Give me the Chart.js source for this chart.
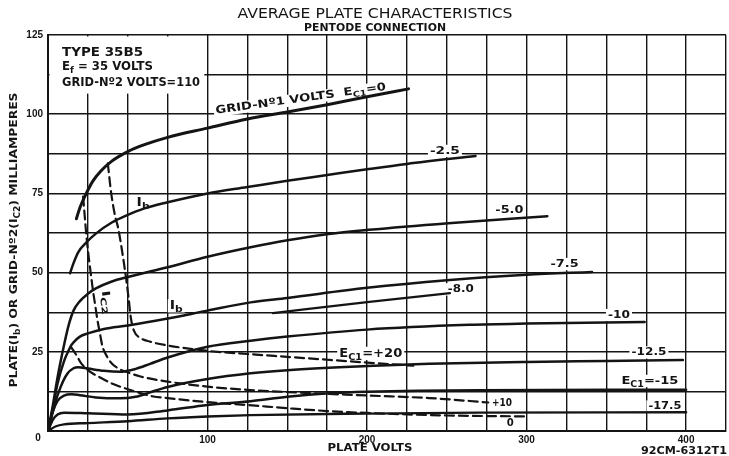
<!DOCTYPE html>
<html>
<head>
<meta charset="utf-8">
<title>35B5 average plate characteristics</title>
<script src="https://cdn.jsdelivr.net/npm/chart.js@4.4.1/dist/chart.umd.min.js"></script>
<style>
  html, body { margin: 0; padding: 0; background: #fff; }
  #wrap { width: 729px; height: 456px; position: relative; }
</style>
</head>
<body>
<div id="wrap"><canvas id="plateChart"></canvas></div>
<script>
// plate current curves, [plate volts, mA]
const ib_0 = [[17.8,67],[20,70.5],[24,75],[28,78.8],[33,82],[40,85.2],[50,88.2],[60,90.3],[75,92.7],[100,95.6],[125,98.5],[150,100.7],[175,103],[200,105.5],[226,108]];
const ib_m2_5 = [[13.8,49.8],[16,53],[19,56.5],[24,59.5],[30,62.3],[40,65.8],[50,68.2],[60,70.2],[75,72.2],[100,75],[125,77],[150,79],[175,80.8],[200,82.6],[225,84.3],[268,86.8]];
const ib_m5 = [[0,0],[3,8],[6,17],[10,27],[13,33.5],[16,38],[20,41],[25,43.3],[30,45],[40,47.2],[50,48.6],[75,51.7],[100,55],[127,58],[150,60.2],[176,62.2],[201,63.5],[251,65.6],[313,67.8]];
const ib_m7_5 = [[0,0],[3,7],[6,15],[10,22],[13,25.5],[14.5,27],[16,28],[20,29.8],[25,30.8],[35,32.2],[50,33.3],[75,35.5],[100,38],[127,40.6],[150,42],[200,45.2],[250,47.6],[300,49.3],[341,50.2]];
const ib_m8 = [[141,37.2],[200,40.7],[252,43.5]];
const ib_m10 = [[0,0],[4,8],[8,14],[12,18],[16,19.8],[19,20.1],[25,19.7],[35,19],[45,18.7],[55,19.6],[64,21.2],[75,23.2],[100,26.6],[127,28.5],[150,29.8],[200,32],[264,33.5],[300,33.9],[374,34.4]];
const ib_m12_5 = [[0,0],[3,6],[6,9.5],[10,11.2],[15,11.6],[20,11.3],[30,10.6],[45,10.3],[55,10.8],[64,12.2],[75,13.9],[100,16.4],[127,18.2],[150,19.2],[200,20.5],[239,21.2],[300,21.8],[350,22.1],[398,22.4]];
const ib_m15 = [[0,0],[3,3.5],[6,5.2],[10,5.8],[25,5.6],[50,5.2],[75,6.5],[100,8.2],[127,9.4],[150,10.8],[176,11.9],[200,12.4],[270,12.9],[400,13]];
const ib_m17_5 = [[0,0],[5,1.5],[10,2.1],[25,2.5],[50,3.1],[75,4],[100,4.6],[127,5],[200,5.5],[270,5.8],[400,5.9]];

// screen grid current curves (dashed)
const ic2_p10 = [[22,74],[23,68],[24,62],[25.5,55],[27,49],[28,45],[29.5,40],[31,35],[32.5,31],[34,27],[37,23.5],[40,21.3],[45,19.5],[50,18.5],[58,17.2],[75,15.6],[100,14],[125,13],[150,12.3],[200,11.2],[239,10.4],[276,9]];
const ic2_p20 = [[37.5,84.5],[39.5,75.5],[42,68],[44,64],[47,55],[49,48],[50.5,42],[52,35.5],[54,31.5],[57.5,29.5],[64,28.2],[75,27],[100,25.3],[125,24.3],[150,23.4],[175,22.5],[200,21.6],[229,20.6]];
const ic2_0 = [[14.5,26.5],[18,23.8],[20.6,21.5],[25,19.2],[33,16.8],[40,15],[50,13.2],[66,10.9],[75,10.4],[100,9.1],[125,8.2],[150,7.2],[175,6.3],[200,5.7],[250,4.9],[300,4.6]];

const xLabels = [100, 200, 300, 400];
const yLabels = [25, 50, 75, 100, 125];

const INK = '#141414';
const LETTER = '"DejaVu Sans", sans-serif';
const TICKFONT = '"Liberation Sans", Arial, sans-serif';

const curves = [
  { pts: ib_0, w: 3 },
  { pts: ib_m2_5, w: 2.5 },
  { pts: ib_m5, w: 2.5 },
  { pts: ib_m7_5, w: 2.5 },
  { pts: ib_m8, w: 2.2 },
  { pts: ib_m10, w: 2.5 },
  { pts: ib_m12_5, w: 2.5 },
  { pts: ib_m15, w: 2.5 },
  { pts: ib_m17_5, w: 2.4 },
  { pts: ic2_p10, w: 2.2, dash: true },
  { pts: ic2_p20, w: 2.2, dash: true },
  { pts: ic2_0, w: 2.2, dash: true }
];

// text on the plot, placed in data units (volts, mA)
const notes = [
  { t: 'TYPE 35B5', v: 8.8, i: 119.3, size: 12, w: 81, align: 'left' },
  { t: 'E{f} = 35 VOLTS', v: 8.8, i: 114.9, size: 12, w: 91, align: 'left' },
  { t: 'GRID-Nº2 VOLTS=110', v: 8.8, i: 109.8, size: 12, w: 138, align: 'left' },
  { t: 'GRID-Nº1 VOLTS  E{C1}=0', v: 158.5, i: 104.8, size: 11, w: 172, rot: -8, bg: true },
  { t: '-2.5', v: 248.8, i: 88.4, size: 11, w: 30, bg: true },
  { t: '-5.0', v: 289.2, i: 69.8, size: 11, w: 28, bg: true },
  { t: '-7.5', v: 323.8, i: 52.7, size: 11, w: 28, bg: true },
  { t: '-8.0', v: 258.8, i: 44.7, size: 11, w: 26, bg: true },
  { t: '-10', v: 357.9, i: 36.6, size: 11, w: 22, bg: true },
  { t: '-12.5', v: 376.7, i: 24.8, size: 11, w: 35, bg: true },
  { t: 'E{C1}=-15', v: 377.3, i: 15.8, size: 11, w: 57, bg: true },
  { t: '-17.5', v: 386.7, i: 7.7, size: 11, w: 33, bg: true },
  { t: '+10', v: 284.6, i: 8.9, size: 11, w: 20, bg: true },
  { t: '0', v: 289.8, i: 2.6, size: 11, w: 7, bg: true },
  { t: 'E{C1}=+20', v: 202.3, i: 24.5, size: 12, w: 63, bg: true },
  { t: 'I{b}', v: 59.6, i: 72.1, size: 12, w: 13, bg: true },
  { t: 'I{b}', v: 80.4, i: 39.5, size: 12, w: 13, bg: true },
  { t: 'I{C2}', v: 36.5, i: 40.6, size: 11, w: 24, rot: 82 }
];

function parseRich(str) {
  const out = [];
  str.split(/(\{[^}]*\})/).forEach(function (s) {
    if (!s) return;
    if (s[0] === '{') out.push({ t: s.slice(1, -1), sub: true });
    else out.push({ t: s, sub: false });
  });
  return out;
}

function measureRich(ctx, str, size, weight) {
  const parts = parseRich(str);
  let w = 0;
  parts.forEach(function (p) {
    p.size = p.sub ? Math.round(size * 0.72) : size;
    ctx.font = weight + ' ' + p.size + 'px ' + LETTER;
    p.w = ctx.measureText(p.t).width;
    w += p.w;
  });
  return { parts: parts, w: w };
}

function drawRich(ctx, str, x, y, size, opt) {
  opt = opt || {};
  const weight = opt.weight || 'bold';
  const m = measureRich(ctx, str, size, weight);
  const sx = opt.w ? opt.w / m.w : 0.85;
  ctx.save();
  ctx.translate(x, y);
  if (opt.rot) ctx.rotate(opt.rot * Math.PI / 180);
  ctx.scale(sx, 1);
  let cx = opt.align === 'left' ? 0 : -m.w / 2;
  ctx.textBaseline = 'middle';
  ctx.textAlign = 'left';
  ctx.fillStyle = INK;
  m.parts.forEach(function (p) {
    ctx.font = weight + ' ' + p.size + 'px ' + LETTER;
    ctx.fillText(p.t, cx, p.sub ? size * 0.32 : 0);
    cx += p.w;
  });
  ctx.restore();
}

function noteBox(ctx, n, x, y) {
  const w = n.w + 4, h = n.size * 0.85 + 3;
  ctx.save();
  ctx.translate(x, y);
  if (n.rot) ctx.rotate(n.rot * Math.PI / 180);
  ctx.fillStyle = '#fff';
  ctx.fillRect(-w / 2, -h / 2, w, h);
  ctx.restore();
}

const lettering = {
  id: 'lettering',
  beforeDatasetsDraw: function (chart) {
    const ctx = chart.ctx, sx = chart.scales.x, sy = chart.scales.y;
    // blank panel behind the type data
    ctx.save();
    ctx.fillStyle = '#fff';
    const x0 = sx.getPixelForValue(0) + 1.5, x1 = sx.getPixelForValue(98);
    const y0 = sy.getPixelForValue(125) + 1.5, y1 = sy.getPixelForValue(106.5);
    ctx.fillRect(x0, y0, x1 - x0, y1 - y0);
    ctx.restore();
    notes.forEach(function (n) {
      if (n.bg) noteBox(ctx, n, sx.getPixelForValue(n.v), sy.getPixelForValue(n.i));
    });
  },
  afterDatasetsDraw: function (chart) {
    const ctx = chart.ctx, sx = chart.scales.x, sy = chart.scales.y;
    notes.forEach(function (n) {
      drawRich(ctx, n.t, sx.getPixelForValue(n.v), sy.getPixelForValue(n.i), n.size, n);
    });
  },
  afterDraw: function (chart) {
    const ctx = chart.ctx, area = chart.chartArea;
    drawRich(ctx, 'AVERAGE PLATE CHARACTERISTICS', 375, 14, 14, { w: 275, weight: 'normal' });
    drawRich(ctx, 'PENTODE CONNECTION', 375, 28, 10, { w: 142 });
    drawRich(ctx, 'PLATE VOLTS', 370, 448, 10, { w: 85 });
    drawRich(ctx, '92CM-6312T1', 684, 451, 10, { w: 86 });
    drawRich(ctx, 'PLATE(I{b}) OR GRID-Nº2(I{C2}) MILLIAMPERES', 14, 240, 11, { w: 295, rot: -90 });
    ctx.save();
    ctx.font = 'bold 10px ' + TICKFONT;
    ctx.fillStyle = INK;
    ctx.textAlign = 'center';
    ctx.textBaseline = 'middle';
    ctx.fillText('0', area.left - 10, area.bottom + 7);
    ctx.restore();
  }
};

new Chart(document.getElementById('plateChart'), {
  type: 'scatter',
  data: {
    datasets: curves.map(function (c) {
      return {
        data: c.pts.map(function (p) { return { x: p[0], y: p[1] }; }),
        showLine: true,
        borderColor: INK,
        borderWidth: c.w,
        borderDash: c.dash ? [9, 5] : [],
        borderCapStyle: 'round',
        pointRadius: 0,
        cubicInterpolationMode: 'monotone',
        fill: false
      };
    })
  },
  options: {
    responsive: true,
    maintainAspectRatio: false,
    animation: false,
    layout: { padding: { top: 35, right: 1, left: 0, bottom: 0 } },
    plugins: { legend: { display: false }, tooltip: { enabled: false }, title: { display: false } },
    scales: {
      x: {
        type: 'linear', min: 0, max: 425,
        afterFit: function (scale) { scale.height = 25; },
        ticks: {
          stepSize: 25, autoSkip: false, maxRotation: 0, padding: 3, color: INK,
          font: { family: TICKFONT, size: 10, weight: 'bold' },
          callback: function (v) { return xLabels.indexOf(v) >= 0 ? String(v) : ''; }
        },
        grid: { color: INK, lineWidth: 1.4, drawTicks: false },
        border: { color: INK, width: 2 }
      },
      y: {
        type: 'linear', min: 0, max: 125,
        afterFit: function (scale) { scale.width = 48; },
        ticks: {
          stepSize: 12.5, autoSkip: false, padding: 5, color: INK,
          font: { family: TICKFONT, size: 10, weight: 'bold' },
          callback: function (v) { return yLabels.indexOf(v) >= 0 ? String(v) : ''; }
        },
        grid: { color: INK, lineWidth: 1.4, drawTicks: false },
        border: { color: INK, width: 2 }
      }
    }
  },
  plugins: [lettering]
});
</script>
</body>
</html>
